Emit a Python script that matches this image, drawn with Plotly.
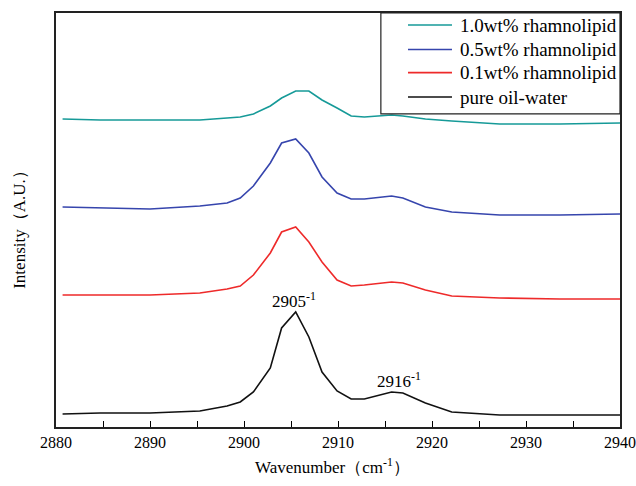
import plotly.graph_objects as go

# Wavenumbers (cm-1) of the sampled spectrum points
wavenumber = [2880.7, 2884.7, 2890.0, 2895.3, 2898.2, 2899.6, 2901.0, 2902.8, 2904.0, 2905.5,
              2906.9, 2908.3, 2909.9, 2911.4, 2912.8, 2915.7, 2916.9, 2919.3, 2922.1, 2927.2,
              2933.6, 2940.0]

# Intensities (arbitrary units, curves vertically offset as in the figure)
pure_oil_water = [13, 14, 14, 16, 21, 25, 35, 59, 99, 115, 90, 55, 36, 28, 28, 35, 34, 24, 15, 12, 12, 12]
rhamno_01 = [132, 132, 132, 134, 138, 141, 152, 174, 195, 200, 185, 165, 147, 141, 142, 145, 144, 137, 131, 129, 128, 128]
rhamno_05 = [220, 219, 218, 221, 224, 229, 241, 264, 284, 288, 274, 250, 234, 228, 228, 231, 229, 220, 215, 212, 212, 213]
rhamno_10 = [308, 307, 307, 307, 309, 310, 313, 321, 329, 336, 336, 327, 319, 311, 310, 312, 311, 308, 306, 303, 303, 304]

series_names = ["1.0wt% rhamnolipid", "0.5wt% rhamnolipid", "0.1wt% rhamnolipid", "pure oil-water"]
series_values = [rhamno_10, rhamno_05, rhamno_01, pure_oil_water]
series_colors = ["#169a98", "#3645ad", "#ee2a2a", "#111111"]

peak_labels = ["2905<sup>-1</sup>", "2916<sup>-1</sup>"]
peak_x = [2905.3, 2916.5]
peak_y = [127, 47]

serif = "Liberation Serif"

fig = go.Figure()
for name, vals, col in zip(series_names, series_values, series_colors):
    fig.add_trace(go.Scatter(x=wavenumber, y=vals, mode="lines", name=name,
                             line=dict(color=col, width=1.6), showlegend=False))

for txt, xx, yy in zip(peak_labels, peak_x, peak_y):
    fig.add_annotation(x=xx, y=yy, text=txt, showarrow=False,
                       font=dict(family=serif, size=17, color="black"))

# axis titles as annotations for exact placement
fig.add_annotation(xref="paper", yref="paper", x=0.49, y=0, yanchor="middle", yshift=-39,
                   text="Wavenumber（cm<sup>-1</sup>）", showarrow=False,
                   font=dict(family=serif, size=17, color="black"))
fig.add_annotation(xref="paper", yref="paper", x=0, y=0.486, xanchor="center", xshift=-36,
                   text="Intensity（A.U.）", textangle=-90, showarrow=False,
                   font=dict(family=serif, size=17, color="black"))

# legend box drawn in paper coordinates (top-right corner of the plot)
fig.add_shape(type="rect", xref="paper", yref="paper", x0=0.576, x1=1.0, y0=0.7565, y1=1.0,
              line=dict(color="#222222", width=1.2), fillcolor="rgba(0,0,0,0)")
legend_rows = [0.971, 0.912, 0.856, 0.797]
for name, col, ry in zip(series_names, series_colors, legend_rows):
    fig.add_shape(type="line", xref="paper", yref="paper", x0=0.6241, x1=0.7021, y0=ry, y1=ry,
                  line=dict(color=col, width=1.6))
    fig.add_annotation(xref="paper", yref="paper", x=0.7128, y=ry, xanchor="left",
                       yanchor="middle", text=name, showarrow=False,
                       font=dict(family=serif, size=19, color="black"))

fig.update_layout(
    width=636, height=486,
    margin=dict(l=56, r=16, t=13, b=59, autoexpand=False),
    paper_bgcolor="white", plot_bgcolor="white",
    font=dict(family=serif, color="black"),
    showlegend=False,
    xaxis=dict(range=[2880, 2940], tickmode="array", automargin=False,
               tickvals=[2880, 2890, 2900, 2910, 2920, 2930, 2940],
               ticks="inside", ticklen=6, tickwidth=1.3, tickcolor="black",
               minor=dict(tickvals=[2885, 2895, 2905, 2915, 2925, 2935], ticks="inside",
                          ticklen=6, tickwidth=1.3, tickcolor="black"),
               showline=True, linecolor="#222222", linewidth=1.6, mirror=True,
               showgrid=False, zeroline=False,
               tickfont=dict(family=serif, size=16, color="black")),
    yaxis=dict(range=[0, 414], showticklabels=False, ticks="", automargin=False,
               showline=True, linecolor="#222222", linewidth=1.6, mirror=True,
               showgrid=False, zeroline=False),
)

fig.write_html("out.html", config={"displayModeBar": False},
               post_script="document.body.style.margin='0';")
